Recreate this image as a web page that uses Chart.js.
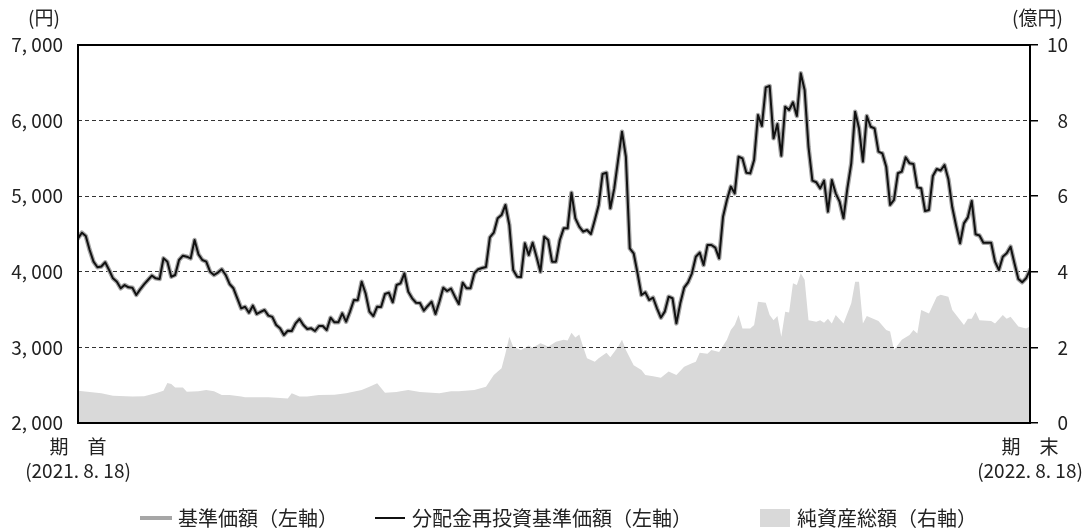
<!DOCTYPE html>
<html>
<head>
<meta charset="utf-8">
<script src="https://cdn.jsdelivr.net/npm/chart.js@4.4.0/dist/chart.umd.min.js"></script>
<style>
  body { margin: 0; background: #fff; font-family: "Noto Sans CJK JP", sans-serif; color: #222; }
  #wrap { position: relative; width: 1087px; height: 528px; overflow: hidden; }
  .unit { position: absolute; top: 4px; font-size: 19px; line-height: 26px; }
  .lg { position: absolute; top: 505px; font-size: 20px; line-height: 26px; white-space: nowrap; }
  .sw { position: absolute; }
</style>
</head>
<body>
<div id="wrap">
  <canvas id="myChart" width="1087" height="528"></canvas>
  <div class="unit" style="left:28px">(円)</div>
  <div class="unit" style="left:1012px">(億円)</div>

  <div class="sw" style="left:140px; top:516px; width:32px; height:4px; background:#a6a6a6"></div>
  <div class="lg" style="left:178px">基準価額（左軸）</div>
  <div class="sw" style="left:375px; top:517px; width:30px; height:2px; background:#111"></div>
  <div class="lg" style="left:412px">分配金再投資基準価額（左軸）</div>
  <div class="sw" style="left:760px; top:509px; width:30px; height:18px; background:#d9d9d9"></div>
  <div class="lg" style="left:797px">純資産総額（右軸）</div>
</div>
<script>
// 基準価額 (円), one value per trading day, 2021/8/18 - 2022/8/18
const basePrice = [
  4443, 4517, 4474, 4288, 4134, 4060, 4070, 4126, 4024, 3914, 3869, 3782, 3825, 3795, 3790, 3693, 3768, 3834, 3892, 3949,
  3914, 3905, 4178, 4134, 3935, 3958, 4156, 4213, 4200, 4178, 4421, 4231, 4156, 4134, 4001,
  3958, 3990, 4033, 3958, 3839, 3782, 3649, 3517, 3538, 3459, 3552, 3442, 3470, 3495, 3420, 3404, 3296, 3252, 3164, 3221,
  3218, 3318, 3376, 3296, 3243, 3252, 3217, 3283, 3283, 3230, 3393, 3332, 3332, 3451,
  3340, 3473, 3627, 3625, 3869, 3716, 3473, 3415, 3538, 3535, 3706, 3724, 3597, 3825, 3847, 3980, 3737, 3649, 3591, 3588,
  3486, 3548, 3604, 3442, 3604, 3790, 3746, 3777, 3671, 3574, 3856, 3782, 3782, 3980, 4033, 4050,
  4064, 4456, 4517, 4707, 4751, 4884, 4619, 4024, 3935, 3930, 4377, 4222, 4385, 4200, 4001, 4465, 4421, 4134, 4134, 4421,
  4575, 4575, 5046, 4707, 4597, 4531, 4553, 4500, 4685, 4884, 5294, 5311, 4840, 5100, 5480, 5853,
  5522, 4310, 4245, 3980, 3693, 3728, 3627, 3657, 3517, 3393, 3473, 3671, 3650, 3318, 3583, 3790, 3861, 3980, 4200, 4253,
  4090, 4355, 4355, 4320, 4178, 4729, 4950, 5127, 5038, 5522, 5500, 5311, 5302, 5479,
  6074, 5929, 6440, 6458, 5765, 5955, 5536, 6184, 6140, 6242, 6061, 6626, 6405, 5650, 5206, 5184, 5104, 5206, 4796, 5214,
  5038, 4928, 4707, 5104, 5435, 6118, 5898, 5458, 6061, 5919, 5898, 5589, 5567, 5390, 4884,
  4950, 5303, 5325, 5514, 5435, 5427, 5117, 5104, 4804, 4818, 5267, 5360, 5340, 5413, 5223, 4853, 4606, 4377, 4641, 4720,
  4937, 4496, 4480, 4385, 4385, 4385, 4134, 4024, 4200, 4244, 4332, 4112, 3905, 3861, 3914, 4024
];
// 分配金再投資基準価額: no distribution in the period, so same values
const reinvestPrice = basePrice;

// 純資産総額 (億円), by trading-day index
const assetDays = [
  0, 6, 9, 14, 17, 20, 22, 23, 24, 25, 27, 28, 31, 33, 35, 37, 39, 42, 43, 49,
  54, 55, 57, 59, 62, 66, 69, 73, 75, 77, 79, 82, 83, 85, 88, 93, 96, 98, 102, 105,
  107, 109, 110, 111, 112, 114, 116, 117, 119, 120, 121, 123, 125, 126, 127, 128, 129, 130, 131, 133,
  134, 136, 137, 139, 140, 141, 143, 145, 146, 148, 150, 152, 154, 156, 158, 159, 160, 162, 163, 165,
  167, 168, 169, 170, 171, 173, 174, 175, 177, 178, 179, 180, 181, 182, 183, 184, 185, 186, 187, 188,
  190, 191, 192, 193, 194, 195, 197, 199, 200, 201, 202, 203, 206, 208, 209, 210, 212, 214, 215, 216,
  217, 219, 221, 222, 224, 225, 228, 229, 230, 231, 232, 235, 236, 238, 239, 240, 242, 244, 245
];
const assetValues = [
  0.85, 0.79, 0.72, 0.70, 0.71, 0.79, 0.85, 1.06, 1.03, 0.94, 0.94, 0.83, 0.84, 0.87, 0.84, 0.74, 0.74, 0.70, 0.68, 0.68,
  0.65, 0.79, 0.70, 0.70, 0.74, 0.75, 0.79, 0.87, 0.96, 1.05, 0.80, 0.82, 0.84, 0.87, 0.82, 0.79, 0.84, 0.84, 0.87, 0.96,
  1.27, 1.45, 1.84, 2.28, 2.02, 1.93, 2.05, 1.99, 2.11, 2.07, 2.02, 2.15, 2.20, 2.18, 2.39, 2.26, 2.34, 2.02, 1.71, 1.62,
  1.71, 1.86, 1.74, 2.02, 2.20, 1.93, 1.53, 1.40, 1.27, 1.24, 1.20, 1.36, 1.27, 1.49, 1.58, 1.62, 1.86, 1.83, 1.93, 1.88,
  2.20, 2.46, 2.59, 2.86, 2.50, 2.50, 2.59, 3.21, 3.18, 2.86, 2.72, 2.83, 2.28, 2.94, 2.92, 3.70, 3.65, 3.96, 3.79, 2.72,
  2.68, 2.72, 2.65, 2.76, 2.63, 2.86, 2.63, 3.17, 3.74, 3.74, 2.63, 2.83, 2.70, 2.46, 2.42, 1.93, 2.20, 2.33, 2.46, 2.37,
  2.99, 2.90, 3.34, 3.39, 3.34, 2.99, 2.59, 2.76, 2.76, 2.94, 2.72, 2.70, 2.63, 2.86, 2.76, 2.81, 2.55, 2.50, 2.55
];

const leftTicks = [2000, 3000, 4000, 5000, 6000, 7000];
const rightTicks = [0, 2, 4, 6, 8, 10];
const periodLabels = [['期　首', '(2021. 8. 18)'], ['期　末', '(2022. 8. 18)']];

const lastDay = basePrice.length - 1;
Chart.defaults.font.family = '"Noto Sans CJK JP", sans-serif';
Chart.defaults.color = '#222';

//Formats 7000 as "7, 000"
function formatYen(v) {
    return String(v).replace(/\B(?=(\d{3})+$)/g, ', ');
}

//Draws the black frame round the plot area
const framePlugin = {
    id: 'frame',
    afterDatasetsDraw(chart) {
        const { ctx, chartArea: a } = chart;
        ctx.save();
        ctx.setLineDash([]);
        ctx.strokeStyle = '#000';
        ctx.lineWidth = 2;
        ctx.strokeRect(a.left, a.top, a.right - a.left, a.bottom - a.top);
        ctx.restore();
    }
};

const ctx = document.getElementById('myChart');
const chart = new Chart(ctx, {
    type: 'line',
    data: {
        datasets: [
            {
                label: '分配金再投資基準価額（左軸）',
                data: reinvestPrice.map((v, i) => ({ x: i, y: v })),
                borderColor: '#111',
                borderWidth: 2,
                borderJoinStyle: 'round',
                borderCapStyle: 'round',
                pointRadius: 0,
                tension: 0,
                yAxisID: 'y',
                order: 1
            },
            {
                label: '基準価額（左軸）',
                data: basePrice.map((v, i) => ({ x: i, y: v })),
                borderColor: '#a6a6a6',
                borderWidth: 4.5,
                borderJoinStyle: 'round',
                borderCapStyle: 'round',
                pointRadius: 0,
                tension: 0,
                yAxisID: 'y',
                order: 2
            },
            {
                label: '純資産総額（右軸）',
                data: assetDays.map((d, i) => ({ x: d, y: assetValues[i] })),
                borderWidth: 0,
                borderColor: 'rgba(0,0,0,0)',
                backgroundColor: '#d9d9d9',
                fill: 'origin',
                pointRadius: 0,
                tension: 0,
                yAxisID: 'y2',
                order: 3
            }
        ]
    },
    options: {
        responsive: false,
        animation: false,
        devicePixelRatio: 1,
        layout: { padding: { left: 0, right: 19, top: 45, bottom: 0 } },
        plugins: {
            legend: { display: false },
            tooltip: { enabled: false },
            filler: { drawTime: 'beforeDraw' }
        },
        scales: {
            x: {
                type: 'linear',
                min: 0,
                max: lastDay,
                afterBuildTicks: s => { s.ticks = [{ value: 0 }, { value: lastDay }]; },
                afterFit: s => { s.height = 105; s.paddingLeft = 0; s.paddingRight = 0; },
                ticks: {
                    autoSkip: false,
                    maxRotation: 0,
                    padding: 4,
                    font: { size: 19, lineHeight: 1.25 },
                    callback: v => (v === 0 ? periodLabels[0] : periodLabels[1])
                },
                grid: { display: false },
                border: { display: false }
            },
            y: {
                position: 'left',
                min: leftTicks[0],
                max: leftTicks[leftTicks.length - 1],
                afterBuildTicks: s => { s.ticks = leftTicks.map(v => ({ value: v })); },
                afterFit: s => { s.width = 78; },
                ticks: {
                    padding: 15,
                    font: { size: 19 },
                    callback: v => formatYen(v)
                },
                grid: { color: '#333', lineWidth: 1, drawTicks: false },
                border: { display: false, dash: [4, 3] }
            },
            y2: {
                position: 'right',
                min: rightTicks[0],
                max: rightTicks[rightTicks.length - 1],
                afterBuildTicks: s => { s.ticks = rightTicks.map(v => ({ value: v })); },
                afterFit: s => { s.width = 38; },
                ticks: {
                    padding: 6,
                    crossAlign: 'far',
                    font: { size: 19 }
                },
                grid: { drawOnChartArea: false, drawTicks: true, tickLength: 8, color: '#000', lineWidth: 1.5 },
                border: { display: false }
            }
        }
    },
    plugins: [framePlugin]
});
</script>
</body>
</html>
